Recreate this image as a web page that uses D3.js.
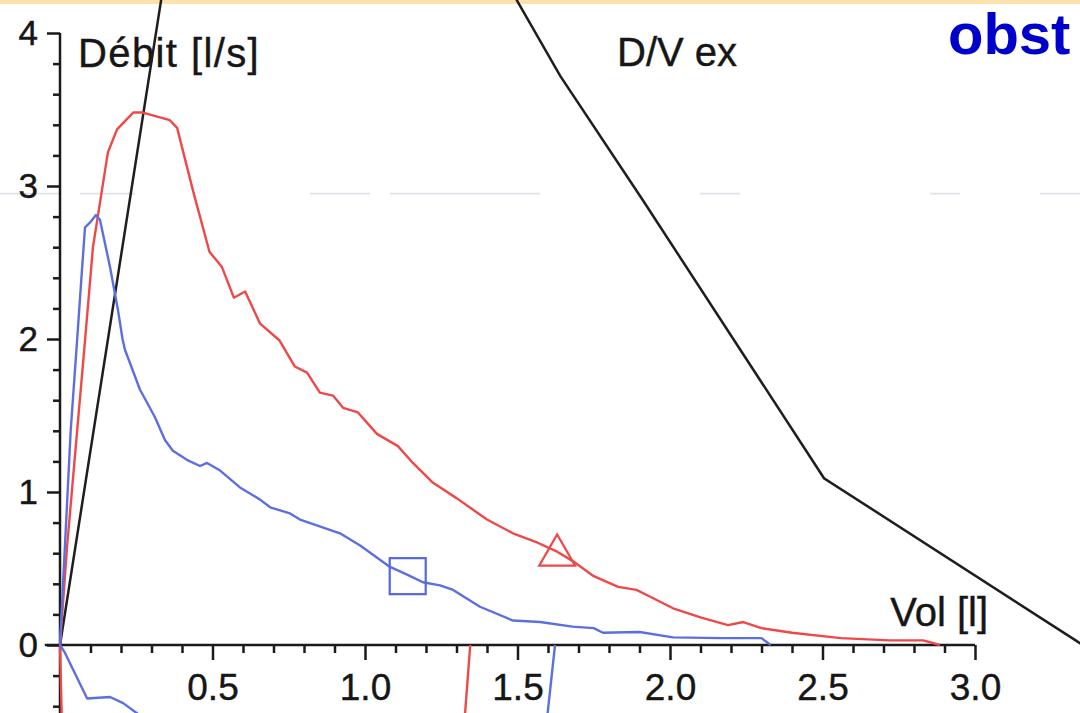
<!DOCTYPE html>
<html>
<head>
<meta charset="utf-8">
<script src="https://cdn.jsdelivr.net/npm/d3@7"></script>
<style>
  html, body { margin: 0; padding: 0; background: #fff; }
  svg { display: block; }
  .lbl { font-family: "Liberation Sans", Arial, sans-serif; fill: #161616; stroke: #161616; stroke-width: 0.4px; }
</style>
</head>
<body>
<svg id="chart" width="1080" height="713"></svg>
<script>
// volume [l], flow [l/s]
var redExp = [[0,0],[0.023,0.64],[0.082,1.99],[0.108,2.6],[0.131,2.89],[0.157,3.22],[0.187,3.37],
  [0.24,3.48],[0.272,3.48],[0.36,3.43],[0.384,3.38],[0.436,2.97],[0.49,2.57],[0.531,2.47],[0.57,2.27],
  [0.607,2.31],[0.656,2.1],[0.72,1.99],[0.77,1.82],[0.81,1.78],[0.852,1.65],[0.895,1.63],[0.928,1.55],
  [0.977,1.52],[1.039,1.38],[1.108,1.3],[1.157,1.19],[1.223,1.06],[1.3,0.96],[1.4,0.82],[1.485,0.73],
  [1.564,0.67],[1.63,0.61],[1.68,0.55],[1.75,0.45],[1.83,0.38],[1.89,0.36],[1.93,0.32],[2.01,0.24],
  [2.1,0.18],[2.19,0.13],[2.24,0.15],[2.3,0.11],[2.4,0.08],[2.56,0.045],[2.72,0.03],[2.83,0.03],[2.885,0]];
var redInsp = [[0,0],[0.006,-0.5],[0.1,-1.2],[1.2,-1.2],[1.328,-0.45],[1.345,0]];

var blueExp = [[0,0],[0.016,0.64],[0.035,1.4],[0.056,1.99],[0.072,2.45],[0.082,2.73],[0.098,2.76],
  [0.118,2.81],[0.131,2.78],[0.164,2.47],[0.19,2.19],[0.205,2.0],[0.213,1.93],[0.262,1.67],[0.311,1.49],
  [0.344,1.34],[0.37,1.27],[0.416,1.21],[0.459,1.17],[0.482,1.19],[0.525,1.14],[0.59,1.03],[0.656,0.95],
  [0.689,0.9],[0.754,0.86],[0.787,0.82],[0.918,0.73],[0.984,0.65],[1.082,0.51],[1.138,0.46],[1.19,0.41],
  [1.246,0.39],[1.289,0.36],[1.377,0.25],[1.485,0.16],[1.574,0.15],[1.68,0.12],[1.75,0.11],[1.78,0.08],
  [1.9,0.085],[2.01,0.05],[2.17,0.045],[2.3,0.045],[2.33,0]];
var blueInsp = [[0,0],[0.016,-0.05],[0.089,-0.35],[0.164,-0.34],[0.207,-0.38],[0.262,-0.46],
  [0.4,-1.2],[1.5,-1.2],[1.598,-0.46],[1.623,0]];

// predicted D/V envelope
var predicted = [[0,0],[0.35,4.45],[1.45,4.38],[1.64,3.72],[1.91,2.91],[2.505,1.09],[3.33,0.03],[3.4,-0.06]];

var blueMark = [1.14, 0.45];
var redMark = [1.63, 0.6];

var yMajor = [0, 1, 2, 3, 4];
var xMajor = [0.5, 1.0, 1.5, 2.0, 2.5, 3.0];

var svg = d3.select('#chart');
var W = 1080, H = 713;

var x = d3.scaleLinear().domain([0, 3]).range([60, 975]);
var y = d3.scaleLinear().domain([0, 4]).range([645, 33]);

// top band of the slide
svg.append('rect').attr('x', 0).attr('y', 0).attr('width', W).attr('height', 4).attr('fill', '#fde2ac');

// faint scan streak
svg.append('line')
  .attr('x1', 0).attr('x2', W).attr('y1', y(2.95)).attr('y2', y(2.95))
  .attr('stroke', '#dde3e8').attr('stroke-width', 1.6)
  .attr('stroke-dasharray', '60 20 55 175 60 20 150 160 40 190 30 80 40');

// axes
var axisG = svg.append('g').attr('class', 'axes');

var yMinor = d3.range(-4, 21).map(function(d) { return d / 5; }).filter(function(d) { return d % 1 !== 0; });
var xMinor = d3.range(1, 30).map(function(d) { return d / 10; }).filter(function(d) { return Math.round(d * 10) % 5 !== 0; });

var yAxis = axisG.append('g').attr('transform', 'translate(60,0)')
  .call(d3.axisLeft(y).tickValues(yMajor).tickSize(13).tickPadding(9).tickFormat(d3.format('d')));
var yAxisMinor = axisG.append('g').attr('transform', 'translate(60,0)')
  .call(d3.axisLeft(y).tickValues(yMinor).tickSize(7).tickFormat(''));
var xAxis = axisG.append('g').attr('transform', 'translate(0,' + y(0) + ')')
  .call(d3.axisBottom(x).tickValues(xMajor).tickSize(15).tickPadding(14).tickFormat(d3.format('.1f')));
var xAxisMinor = axisG.append('g').attr('transform', 'translate(0,' + y(0) + ')')
  .call(d3.axisBottom(x).tickValues(xMinor).tickSize(8).tickFormat(''));

axisG.selectAll('.domain').remove();
axisG.selectAll('.tick line').attr('stroke', '#1a1a1a').attr('stroke-width', 2.5);
yAxis.selectAll('text').attr('class', 'lbl').style('font-size', '35px');
xAxis.selectAll('text').attr('class', 'lbl').style('font-size', '37px');

axisG.append('line').attr('x1', 60).attr('x2', 60).attr('y1', y(4)).attr('y2', H)
  .attr('stroke', '#1a1a1a').attr('stroke-width', 2.5);
axisG.append('line').attr('x1', x(-0.05)).attr('x2', x(3)).attr('y1', y(0)).attr('y2', y(0))
  .attr('stroke', '#1a1a1a').attr('stroke-width', 2.5);

// labels
svg.append('text').attr('class', 'lbl').attr('x', 78).attr('y', 67).style('font-size', '40px')
  .style('letter-spacing', '1.4px').text('Débit [l/s]');
svg.append('text').attr('class', 'lbl').attr('x', 617).attr('y', 66).style('font-size', '40px').text('D/V ex');
svg.append('text').attr('class', 'lbl').attr('x', 988).attr('y', 626).attr('text-anchor', 'end')
  .style('font-size', '40px').text('Vol [l]');

// curves
var line = d3.line().x(function(d) { return x(d[0]); }).y(function(d) { return y(d[1]); });

svg.append('path').datum(predicted).attr('d', line)
  .attr('fill', 'none').attr('stroke', '#1e1e1e').attr('stroke-width', 2.5);

[[redInsp, '#f04848'], [redExp, '#f04848'], [blueInsp, '#5c6fe0'], [blueExp, '#5c6fe0']].forEach(function(s) {
  svg.append('path').datum(s[0]).attr('d', line)
    .attr('fill', 'none').attr('stroke', s[1]).attr('stroke-width', 2.4)
    .attr('stroke-linejoin', 'round');
});

// markers
svg.append('rect')
  .attr('x', x(blueMark[0]) - 18).attr('y', y(blueMark[1]) - 18)
  .attr('width', 36).attr('height', 36)
  .attr('fill', 'none').attr('stroke', '#5566e0').attr('stroke-width', 2.2);

var tri = d3.symbol().type(d3.symbolTriangle).size(560);
svg.append('path')
  .attr('transform', 'translate(' + x(redMark[0]) + ',' + (y(redMark[1]) + 2) + ')')
  .attr('d', tri())
  .attr('fill', 'none').attr('stroke', '#f04848').attr('stroke-width', 2.2);

// slide title fragment
svg.append('text').attr('x', 948).attr('y', 54)
  .style('font-family', '"Liberation Sans", Arial, sans-serif')
  .style('font-weight', 'bold').style('font-size', '58px')
  .attr('fill', '#0000cc').text('obst');
</script>
</body>
</html>
